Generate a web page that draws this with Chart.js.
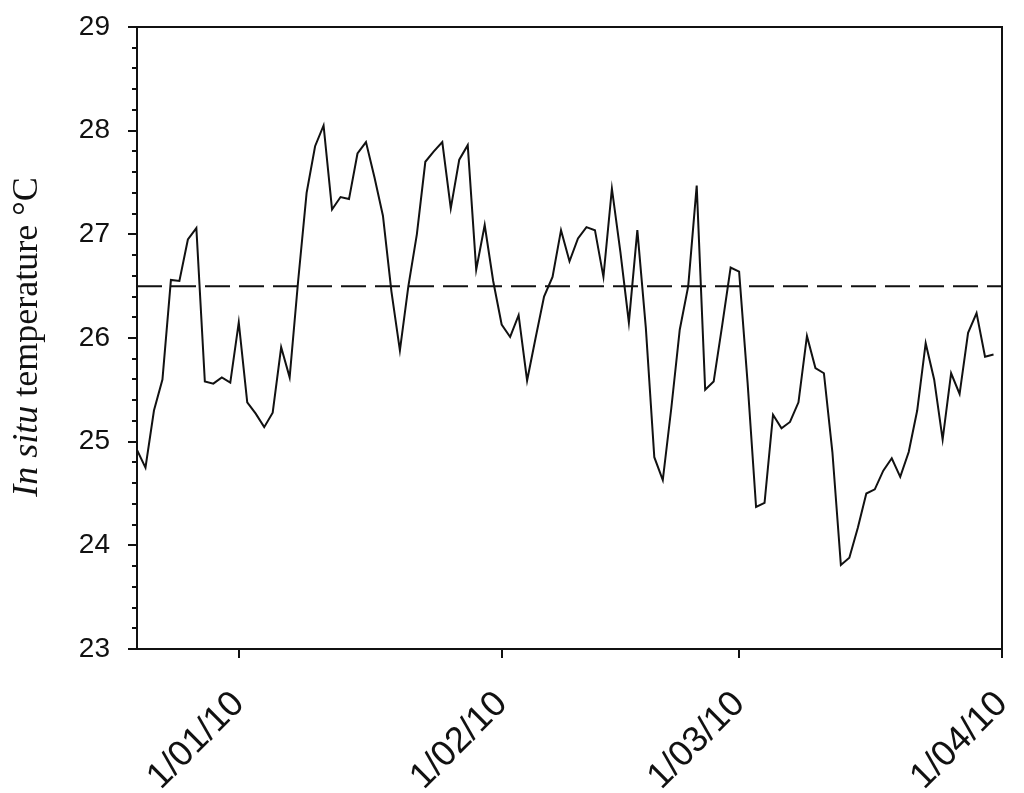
<!DOCTYPE html>
<html>
<head>
<meta charset="utf-8">
<script src="https://cdn.jsdelivr.net/npm/chart.js@4.4.0/dist/chart.umd.min.js"></script>
<style>
  body { margin: 0; background: #fff; }
  #wrap { width: 1024px; height: 793px; }
</style>
</head>
<body>
<div id="wrap"><canvas id="chart" width="1024" height="793"></canvas></div>
<script>
// --- data ---
const firstDay = '2009-12-20';   // one reading per day from here
const lastDay = '2010-04-01';
const temps = [24.92, 24.75, 25.30, 25.60, 26.56, 26.55, 26.95, 27.06, 25.58, 25.56,
  25.62, 25.57, 26.15, 25.38, 25.27, 25.14, 25.28, 25.91, 25.62, 26.55,
  27.40, 27.85, 28.05, 27.24, 27.36, 27.34, 27.78, 27.89, 27.55, 27.18,
  26.45, 25.88, 26.50, 27.00, 27.70, 27.80, 27.89, 27.25, 27.72, 27.86,
  26.66, 27.09, 26.55, 26.13, 26.01, 26.22, 25.59, 26.00, 26.40, 26.59,
  27.04, 26.74, 26.96, 27.07, 27.04, 26.59, 27.44, 26.83, 26.15, 27.04,
  26.10, 24.85, 24.63, 25.32, 26.08, 26.50, 27.47, 25.50, 25.58, 26.12,
  26.68, 26.64, 25.57, 24.37, 24.41, 25.26, 25.13, 25.19, 25.38, 26.02,
  25.71, 25.66, 24.90, 23.81, 23.88, 24.17, 24.50, 24.54, 24.72, 24.84,
  24.66, 24.90, 25.30, 25.95, 25.60, 25.02, 25.66, 25.46, 26.05, 26.24,
  25.82, 25.84];
const meanTemp = 26.5;
const tickDates = ['2010-01-01', '2010-02-01', '2010-03-01', '2010-04-01'];
const tickLabels = ['1/01/10', '1/02/10', '1/03/10', '1/04/10'];
const yMin = 23, yMax = 29;

const DAY = 86400000;
const t0 = Date.parse(firstDay);
const tEnd = Date.parse(lastDay);
const series = temps.map((v, i) => ({ x: t0 + i * DAY, y: v }));
const meanLine = [{ x: t0, y: meanTemp }, { x: tEnd, y: meanTemp }];

// frame, tick marks and the y title
const axesPlugin = {
  id: 'axesPlugin',
  afterDatasetsDraw(chart) {
    const { ctx, chartArea: a, scales } = chart;
    ctx.save();
    ctx.strokeStyle = '#111';
    ctx.lineWidth = 2;
    ctx.strokeRect(a.left, a.top, a.right - a.left, a.bottom - a.top);
    ctx.beginPath();
    for (let v = yMin; v <= yMax + 0.001; v += 0.2) {
      const y = Math.round(scales.y.getPixelForValue(v));
      const major = Math.abs(v - Math.round(v)) < 0.01;
      ctx.moveTo(a.left, y);
      ctx.lineTo(a.left - (major ? 9 : 5), y);
    }
    tickDates.forEach(d => {
      const x = Math.round(scales.x.getPixelForValue(Date.parse(d)));
      ctx.moveTo(x, a.bottom);
      ctx.lineTo(x, a.bottom + 9);
    });
    ctx.stroke();

    // "In situ temperature °C", italic first part
    ctx.translate(37, 337);
    ctx.rotate(-Math.PI / 2);
    ctx.fillStyle = '#111';
    ctx.textBaseline = 'alphabetic';
    const p1 = 'In situ', p2 = ' temperature \u00B0C';
    ctx.font = 'italic 36px "Liberation Serif", serif';
    const w1 = ctx.measureText(p1).width;
    ctx.font = '36px "Liberation Serif", serif';
    const w2 = ctx.measureText(p2).width;
    const x0 = -(w1 + w2) / 2;
    ctx.font = 'italic 36px "Liberation Serif", serif';
    ctx.fillText(p1, x0, 0);
    ctx.font = '36px "Liberation Serif", serif';
    ctx.fillText(p2, x0 + w1, 0);
    ctx.restore();
  }
};

new Chart(document.getElementById('chart'), {
  type: 'line',
  data: {
    datasets: [
      {
        data: series,
        borderColor: '#111',
        borderWidth: 2,
        pointRadius: 0,
        tension: 0
      },
      {
        data: meanLine,
        borderColor: '#111',
        borderWidth: 2,
        borderDash: [25, 9],
        pointRadius: 0
      }
    ]
  },
  options: {
    responsive: false,
    animation: false,
    events: [],
    layout: { padding: { top: 27, right: 22, left: 0, bottom: 0 } },
    plugins: { legend: { display: false }, tooltip: { enabled: false } },
    scales: {
      x: {
        type: 'linear',
        min: t0,
        max: tEnd,
        grid: { display: false },
        border: { display: false },
        afterBuildTicks: s => { s.ticks = tickDates.map(d => ({ value: Date.parse(d) })); },
        afterFit: s => { s.height = 144; s.paddingLeft = 0; s.paddingRight = 0; },
        ticks: {
          autoSkip: false,
          minRotation: 45,
          maxRotation: 45,
          padding: 26,
          color: '#111',
          font: { family: '"Liberation Sans", Arial, sans-serif', size: 36 },
          callback: v => tickLabels[tickDates.findIndex(d => Date.parse(d) === v)]
        }
      },
      y: {
        min: yMin,
        max: yMax,
        grid: { display: false },
        border: { display: false },
        afterFit: s => { s.width = 137; s.paddingTop = 0; s.paddingBottom = 0; },
        ticks: {
          stepSize: 1,
          padding: 19,
          color: '#111',
          font: { family: '"Liberation Sans", Arial, sans-serif', size: 28 }
        }
      }
    }
  },
  plugins: [axesPlugin]
});
</script>
</body>
</html>
